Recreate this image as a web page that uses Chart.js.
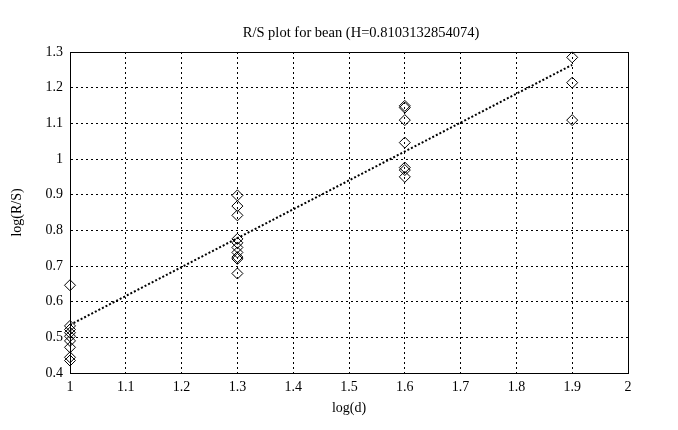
<!DOCTYPE html>
<html>
<head>
<meta charset="utf-8">
<script src="https://cdn.jsdelivr.net/npm/chart.js@4/dist/chart.umd.min.js"></script>
<style>
  html, body { margin: 0; padding: 0; background: #fff; }
  #wrap { width: 678px; height: 430px; }
</style>
</head>
<body>
<div id="wrap"><canvas id="chart" width="678" height="430"></canvas></div>
<script>
// log(d) positions of the four point groups
const logD = [1, 1.3, 1.6, 1.9]
// log(R/S) values read at each log(d)
const rsAt1_0 = [0.646, 0.532, 0.522, 0.513, 0.503, 0.49, 0.472, 0.444, 0.435]
const rsAt1_3 = [0.898, 0.868, 0.842, 0.776, 0.765, 0.752, 0.738, 0.725, 0.72, 0.679]
const rsAt1_6 = [1.149, 1.144, 1.109, 1.046, 0.976, 0.969, 0.95]
const rsAt1_9 = [1.285, 1.214, 1.109]
// fitted line end points
const fitX = [1, 1.9]
const fitY = [0.535, 1.264]

const groups = [rsAt1_0, rsAt1_3, rsAt1_6, rsAt1_9]
const points = []
groups.forEach((vals, i) => vals.forEach(v => points.push({x: logD[i], y: v})))

const fmt = v => String(+Number(v).toFixed(2))

// frame round the plot area (top + right sides too)
const frame = {
    id: 'frame',
    afterLayout(chart) {
        // title sits a little right of the plot centre in the original
        if (chart.titleBlock) chart.titleBlock.left += 24
    },
    afterDatasetsDraw(chart) {
        const a = chart.chartArea, c = chart.ctx
        c.save()
        c.strokeStyle = '#000'
        c.lineWidth = 1
        c.strokeRect(Math.round(a.left) + 0.5, Math.round(a.top) + 0.5, Math.round(a.right - a.left), Math.round(a.bottom - a.top))
        c.restore()
    }
}

Chart.defaults.font.family = "'Liberation Serif', 'DejaVu Serif', serif"
Chart.defaults.font.size = 14
Chart.defaults.color = '#000'

const grid = {
    color: '#000',
    lineWidth: 1,
    drawTicks: false
}

new Chart(document.getElementById('chart'), {
    type: 'scatter',
    data: {
        datasets: [
            {
                data: points,
                clip: false,
                pointStyle: 'rectRot',
                pointRadius: 5.5,
                pointHoverRadius: 5.5,
                borderColor: '#000',
                backgroundColor: 'rgba(0,0,0,0)',
                borderWidth: 1
            },
            {
                data: fitX.map((x, i) => ({x: x, y: fitY[i]})),
                showLine: true,
                pointRadius: 0,
                borderColor: '#000',
                borderWidth: 2,
                borderDash: [2, 2]
            }
        ]
    },
    options: {
        responsive: false,
        animation: false,
        layout: { padding: { left: 0, right: 50, top: 0, bottom: 0 } },
        plugins: {
            legend: { display: false },
            tooltip: { enabled: false },
            title: {
                display: true,
                fullSize: false,
                text: 'R/S plot for bean (H=0.8103132854074)',
                font: { size: 14.5, weight: 'normal' },
                color: '#000',
                padding: { top: 24, bottom: 10.6 }
            }
        },
        scales: {
            x: {
                type: 'linear',
                min: 1,
                max: 2,
                ticks: { stepSize: 0.1, padding: 6, callback: fmt, maxRotation: 0 },
                grid: { ...grid },
                border: { display: true, color: '#000', dash: [2, 3] },
                title: { display: true, text: 'log(d)', padding: { top: 4, bottom: 13 } },
                afterFit(s) { s.height = 57 }
            },
            y: {
                type: 'linear',
                min: 0.4,
                max: 1.3,
                ticks: { stepSize: 0.1, padding: 7, callback: fmt },
                grid: { ...grid },
                border: { display: true, color: '#000', dash: [2, 3] },
                title: { display: true, text: 'log(R/S)', padding: { top: 9, bottom: 4 } },
                afterFit(s) { s.width = 70 }
            }
        }
    },
    plugins: [frame]
})
</script>
</body>
</html>
